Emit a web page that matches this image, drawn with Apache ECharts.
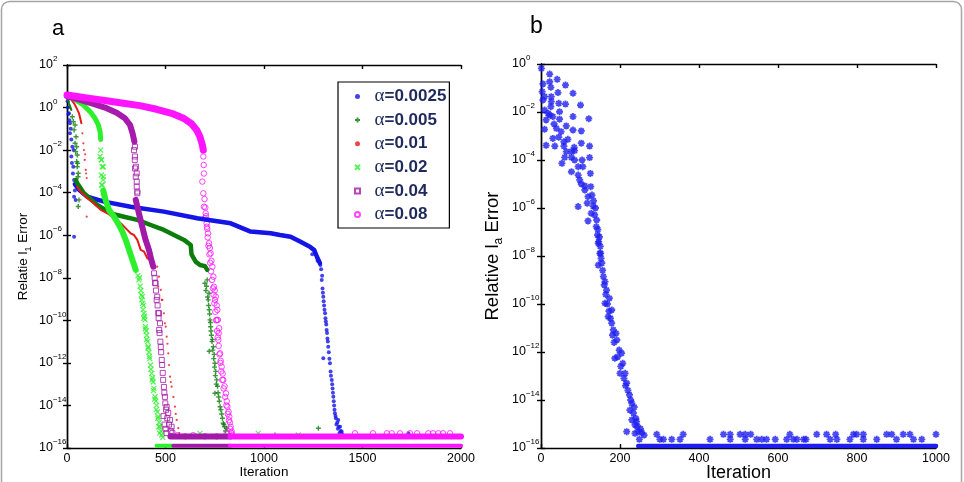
<!DOCTYPE html>
<html>
<head>
<meta charset="utf-8">
<script src="https://cdn.jsdelivr.net/npm/echarts@6/dist/echarts.min.js"></script>
<style>
html, body { margin: 0; padding: 0; background: #fff; }
#chart { width: 964px; height: 482px; }
</style>
</head>
<body>
<div id="chart"></div>
<script>
// tick labels
const xTicksA = [0, 500, 1000, 1500, 2000];
const xTicksB = [0, 200, 400, 600, 800, 1000];
const yExpA = [-16, -14, -12, -10, -8, -6, -4, -2, 0, 2];
const yExpB = [-16, -14, -12, -10, -8, -6, -4, -2, 0];

const names = ['α=0.0025', 'α=0.005', 'α=0.01', 'α=0.02', 'α=0.04', 'α=0.08'];

// all points are [iteration, log10(error)]
// alpha = 0.0025
const blueDots = [[3,0.3],[5,0.0],[7,-0.3],[10,-0.27],[12,-0.6],[15,-0.74],[15,-1.21],[19,-1.0],[22,-1.5],[27,-1.84],[22,-2.3],[25,-2.6],[32,-2.78],[30,-3.1],[36,-3.4],[36,-4.19],[44,-4.34],[36,-6.07],[40,-3.9],[33,-2.0],
  [1245,-6.9],[1272,-7.2],[1286,-7.4],[1290,-7.6],[1295,-7.9],[1293,-8.1],[1297,-8.5],[1299,-8.7],[1301,-8.89],[1303,-9.1],[1305,-9.3],[1307,-9.5],[1310,-9.67],[1312,-9.9],[1314,-10.05],[1316,-10.2],[1318,-10.45],[1320,-10.6],[1322,-10.85],[1324,-11.0],[1326,-11.24],[1329,-11.5],[1301,-11.78],[1332,-11.8],[1335,-12.02],[1338,-12.4],[1340,-12.6],[1344,-12.8],[1346,-13.0],[1348,-13.2],[1350,-13.4],[1352,-13.59],[1354,-13.8],[1356,-14.0],[1358,-14.2],[1360,-14.37],[1363,-14.5],[1365,-14.6],[1368,-14.9],[1372,-14.8],[1375,-15.1],[1377,-14.68],[1380,-15.0],[1383,-15.3],[1386,-15.0],[1390,-15.2],[1394,-15.23],[1398,-15.35],[1733,-15.31]];
const blueBand = [[40,-3.6],[60,-3.85],[103,-4.19],[188,-4.42],[323,-4.66],[492,-4.89],[661,-5.2],[831,-5.44],[932,-5.83],[1034,-5.91],[1081,-5.99],[1135,-6.07],[1183,-6.3],[1233,-6.54],[1255,-6.7],[1268,-7.0],[1284,-7.32]];

// alpha = 0.005
const greenTop = [[0,0.54],[10,0.2],[22,-0.11]];
const greenDots = [[27,-0.43],[32,-0.66],[36,-1.05],[41,-1.68],[44,-2.07],[49,-2.54],[52,-2.78],[56,-3.25],[41,-0.82],[46,-1.37],[49,-1.84],[52,-2.23],[54,-2.62],[57,-3.09],[61,-4.34],[57,-4.65],
  [700,-8.26],[705,-8.6],[708,-8.4],[712,-8.1],[714,-8.9],[717,-9.04],[719,-9.3],[721,-8.73],[722,-9.5],[724,-9.7],[726,-9.98],[728,-10.1],[729,-10.3],[731,-10.5],[733,-10.7],[736,-11.0],[738,-10.9],[740,-11.4],[743,-11.24],[722,-11.45],[745,-11.8],[747,-11.6],[749,-12.2],[751,-12.02],[753,-12.6],[755,-12.4],[758,-13.0],[760,-12.8],[764,-13.1],[751,-13.43],[767,-13.4],[770,-13.6],[773,-13.8],[777,-14.06],[781,-14.2],[785,-14.4],[789,-14.6],[793,-14.84],[796,-14.9],[800,-15.0],[805,-15.2],[811,-15.07],[1276,-15.07],[1056,-15.39]];
const greenBand = [[45,-3.4],[52,-3.56],[86,-4.03],[154,-4.58],[222,-4.97],[289,-5.13],[357,-5.28],[425,-5.52],[492,-5.75],[543,-5.99],[594,-6.22],[628,-6.46],[632,-6.9],[653,-7.24],[675,-7.4],[700,-7.45],[712,-7.63]];

// alpha = 0.01
const redTop = [[0,0.54],[20,0.4],[36,0.2],[50,-0.05],[61,-0.27],[73,-0.74]];
const redDots = [[78,-1.21],[83,-1.68],[86,-2.0],[90,-2.46],[95,-2.93],[100,-3.31],[100,-5.13],[92,-2.2],[97,-3.1],
  [458,-7.48],[463,-8.42],[467,-7.95],[476,-8.57],[481,-9.04],[484,-9.04],[492,-9.67],[497,-10.14],[501,-10.3],[506,-10.77],[510,-11.1],[514,-11.55],[518,-12.1],[523,-12.65],[527,-12.9],[531,-13.12],[540,-13.6],[548,-14.06],[552,-14.4],[557,-14.68],[565,-15.07],[570,-15.3]];
const redBand = [[52,-3.72],[61,-3.87],[103,-4.26],[137,-4.5],[171,-4.81],[205,-4.97],[239,-5.2],[273,-5.44],[306,-5.75],[323,-5.91],[340,-5.99],[357,-6.22],[374,-6.69],[391,-6.77],[408,-7.08],[433,-7.24]];

// alpha = 0.02
const limeTop = [[0,0.54],[32,0.43],[83,0.12],[117,-0.19],[142,-0.5],[159,-0.82],[168,-1.13],[171,-1.5]];
const limeDots = [[171,-2.0],[174,-2.46],[179,-2.78],[174,-3.17],[184,-3.4],[179,-3.64],[168,-2.3],[176,-2.46],[184,-2.78],[184,-3.25],[176,-3.64],[184,-4.19],
  [360,-7.9],[365,-8.1],[368,-8.0],[371,-8.4],[375,-8.6],[377,-8.8],[379,-9.04],[382,-8.89],[384,-9.2],[386,-9.5],[388,-9.3],[390,-9.9],[391,-9.67],[393,-9.8],[396,-9.98],[397,-10.4],[399,-10.3],[402,-10.5],[404,-10.9],[405,-10.7],[409,-11.0],[411,-11.3],[413,-11.24],[416,-11.5],[418,-11.7],[420,-11.8],[424,-12.1],[426,-12.3],[430,-12.49],[432,-12.8],[434,-12.7],[437,-12.9],[439,-13.3],[441,-13.2],[445,-13.7],[447,-13.59],[451,-13.8],[453,-14.2],[455,-14.0],[459,-14.3],[461,-14.6],[463,-14.53],[466,-15.0],[468,-14.8],[470,-15.3],[472,-15.0],[476,-15.2],[481,-15.39],[486,-15.5],
  [640,-15.45],[675,-15.31],[971,-15.31],[1174,-15.38]];
const limeBand = [[184,-3.9],[196,-4.34],[213,-4.81],[239,-5.13],[264,-5.52],[281,-5.83],[298,-6.22],[315,-6.69],[332,-7.16],[349,-7.63]];
const limeFloor = [[455,-15.9],[540,-15.9]];

// alpha = 0.04
const purpleTop = [[0,0.54],[66,0.36],[134,0.17],[201,-0.03],[252,-0.24],[294,-0.5],[320,-0.82],[333,-1.21],[342,-1.6]];
const purpleDots = [[340,-2.0],[344,-2.46],[345,-2.86],[349,-3.25],[354,-3.72],[357,-4.03],[345,-1.84],[345,-2.3],[350,-2.78],[354,-3.09],[354,-3.48],[357,-3.95],
  [442,-7.79],[445,-8.0],[450,-8.26],[447,-8.24],[452,-8.6],[458,-8.89],[455,-9.04],[460,-9.3],[463,-9.65],[467,-9.67],[465,-9.9],[472,-10.14],[468,-10.45],[470,-10.6],[474,-11.0],[476,-11.25],[478,-11.5],[481,-11.86],[483,-12.1],[486,-12.47],[488,-12.8],[492,-13.13],[494,-13.4],[497,-13.6],[499,-13.9],[503,-14.2],[506,-14.07],[509,-14.6],[514,-14.35],[518,-14.9],[523,-14.68],[527,-15.2],[531,-15.0],[535,-15.3],[490,-14.5],[495,-14.9],[500,-15.1],[505,-15.3]];
const purpleBand = [[349,-4.34],[365,-4.97],[382,-5.6],[399,-6.22],[416,-6.69],[428,-7.16],[438,-7.48]];
const purpleRow = [[525,-15.46],[830,-15.46]];
const purpleFloor = [[540,-15.9],[830,-15.9]];

// alpha = 0.08
const magentaTop = [[0,0.59],[117,0.43],[201,0.32],[286,0.2],[370,0.09],[455,-0.08],[540,-0.3],[591,-0.5],[633,-0.77],[658,-1.05],[675,-1.37],[687,-1.76],[692,-2.0]];
const magentaDots = [[692,-2.3],[694,-2.7],[695,-3.1],[687,-3.48],[692,-4.03],[695,-4.66],[704,-4.97],[709,-5.44],[716,-5.91],[721,-6.38],[729,-6.85],[738,-7.48],[743,-7.95],[746,-8.42],[755,-8.89],[763,-9.51],[766,-9.98],[772,-10.37],[751,-9.04],[760,-9.98],[768,-10.92],[777,-11.55],[785,-12.18],[793,-12.8],[807,-13.43],[814,-14.06],[824,-14.53],[831,-15.0],[836,-15.23],[700,-5.2],[712,-5.7],[725,-6.6],[733,-7.2],[750,-8.6],[760,-9.3],[770,-10.6],[780,-11.9],[790,-12.5],[800,-13.1],[811,-13.8],[820,-14.3],[827,-14.8],
  [698,-4.3],[702,-4.7],[706,-5.1],[710,-5.6],[714,-6.1],[718,-6.5],[723,-6.9],[727,-7.3],[731,-7.7],[736,-8.1],[741,-8.5],[744,-8.8],[748,-9.2],[753,-9.6],[757,-10.0],[762,-10.5],[765,-10.8],[770,-11.2],[774,-11.6],[779,-12.0],[783,-12.4],[788,-12.8],[795,-13.2],[803,-13.6],[809,-14.0],[816,-14.4],[822,-14.7],[829,-15.1],[834,-15.3],[838,-15.4],
  [560,-15.4],[600,-15.45],[640,-15.4],[700,-15.45],[760,-15.45],[811,-15.31],[1462,-15.31],[1553,-15.31],[1624,-15.31],[1648,-15.31],[1690,-15.31],[1741,-15.31],[1777,-15.31],[1834,-15.31],[1858,-15.31],[1885,-15.31],[1909,-15.31],[1944,-15.31]];
const magentaRow = [[830,-15.46],[2000,-15.46]];
const magentaFloor = [[827,-15.9],[2000,-15.9]];

// panel b
const starDots = [[1,-0.18],[22,-0.42],[5,-0.83],[22,-0.74],[41,-0.64],[62,-0.88],[3,-1.15],[9,-1.36],[25,-0.97],[26,-1.36],[43,-1.19],[81,-1.22],[5,-1.5],[26,-1.57],[9,-1.92],[25,-1.78],[45,-1.64],[62,-1.67],[100,-1.71],[18,-2.06],[30,-2.19],[47,-1.99],[13,-2.33],[22,-2.13],[81,-2.19],[121,-2.28],[33,-2.5],[47,-2.3],[64,-2.58],[9,-2.72],[39,-2.68],[51,-2.82],[81,-2.75],[102,-2.79],[30,-3.1],[45,-3.05],[58,-3.24],[68,-3.14],[102,-3.3],[13,-3.39],[35,-3.42],[58,-3.42],[84,-3.47],[123,-3.42],[64,-3.65],[77,-3.65],[85,-3.61],[60,-3.89],[77,-3.89],[123,-3.9],[53,-4.14],[85,-4.0],[104,-4.0],[77,-4.49],[94,-4.28],[106,-4.28],[125,-4.56],[94,-4.63],[98,-4.83],[102,-5.0],[111,-5.08],[126,-5.11],[111,-5.25],[119,-5.53],[129,-5.46],[94,-5.94],[117,-5.8],[132,-5.92],[127,-6.22],[136,-6.29],[119,-6.54],[140,-6.78],[143,-7.13],[146,-7.4],[151,-7.89],
  [145,-7.47],[149,-7.89],[145,-8.38],[154,-8.3],[158,-8.86],[162,-9.07],[162,-9.97],[166,-9.42],[173,-9.76],[170,-10.53],[179,-10.25],[179,-10.8],[183,-11.08],[190,-11.22],[187,-12.26],[192,-11.5],[198,-11.92],[204,-12.05],[200,-12.89],[207,-12.47],[213,-12.89],[217,-13.3],[224,-13.79],[230,-14.14],[225,-14.42],[234,-14.55],[230,-14.83],[240,-14.76],[217,-15.32],[238,-15.04],[246,-15.32],[238,-15.39],[255,-15.36],[261,-15.46],[249,-15.64],
  [133,-5.7],[138,-6.0],[141,-6.5],[144,-6.9],[148,-7.2],[150,-7.6],[152,-8.1],[156,-8.6],[160,-9.2],[164,-9.6],[168,-10.0],[172,-10.3],[176,-10.6],[181,-11.3],[185,-11.6],[194,-12.2],[202,-12.6],[210,-13.1],[214,-13.4],[220,-13.6],[227,-14.0],[236,-14.3],[242,-14.9],[244,-15.1],[252,-15.2]];
const starUpperIters = [293,360,462,479,504,517,531,630,698,723,746,791,799,816,875,888,917,934,1000];
const starLowerIters = [301,310,331,352,428,479,517,546,559,571,593,622,639,648,665,671,732,749,782,816,850,900,943,964];
const starFloor = [[246,-15.92],[1000,-15.92]];

const toVal = arr => arr.map(p => [p[0], Math.pow(10, p[1])]);
const rowVal = (iters, e) => iters.map(x => [x, Math.pow(10, e)]);

const PLUS = 'path://M0,5L10,5M5,0L5,10';
const CROSS = 'path://M1,1L9,9M1,9L9,1';
const SQUARE = 'path://M0,0L10,0L10,10L0,10Z';
const STAR = 'path://M5,0L5,10M0,5L10,5M1.5,1.5L8.5,8.5M1.5,8.5L8.5,1.5';

const C = {
  blue: '#1414e6', green: '#0b7d0b', red: '#e81818',
  lime: '#2cf02c', purple: '#a21aa8', magenta: '#ff14ff', star: '#1e1ef0'
};

function dots(name, data, symbol, size, itemStyle, ax) {
  return { name, type: 'scatter', xAxisIndex: ax, yAxisIndex: ax, data, symbol,
    symbolSize: size, itemStyle, silent: true, animation: false };
}
function band(data, color, width, ax) {
  return { type: 'line', xAxisIndex: ax, yAxisIndex: ax, data: toVal(data),
    showSymbol: false, symbol: 'none', lineStyle: { color, width, cap: 'round', join: 'round' },
    silent: true, animation: false };
}

const blueStyle = { color: C.blue };
const greenStyle = { color: 'transparent', borderColor: C.green, borderWidth: 1.4 };
const redStyle = { color: C.red };
const limeStyle = { color: 'transparent', borderColor: C.lime, borderWidth: 1.2 };
const purpleStyle = { color: 'transparent', borderColor: C.purple, borderWidth: 1 };
const magentaStyle = { color: 'transparent', borderColor: C.magenta, borderWidth: 1 };

const series = [
  band(blueBand, C.blue, 4.5, 0),
  dots(names[0], toVal(blueDots), 'circle', 4, blueStyle, 0),
  band(greenTop, C.green, 2, 0),
  band(greenBand, C.green, 4.5, 0),
  dots(names[1], toVal(greenDots), PLUS, 5, greenStyle, 0),
  band(redTop, C.red, 2, 0),
  band(redBand, C.red, 2, 0),
  dots(names[2], toVal(redDots), 'circle', 2.2, redStyle, 0),
  band(limeTop, C.lime, 5, 0),
  band(limeBand, C.lime, 6, 0),
  band(limeFloor, C.lime, 4, 0),
  dots(names[3], toVal(limeDots), CROSS, 5, limeStyle, 0),
  band(purpleTop, '#a61aac', 6, 0),
  band(purpleBand, C.purple, 6, 0),
  band(purpleRow, C.purple, 6, 0),
  band(purpleFloor, C.purple, 4, 0),
  dots(names[4], toVal(purpleDots), SQUARE, 5, purpleStyle, 0),
  band(magentaTop, C.magenta, 7, 0),
  band(magentaRow, C.magenta, 6, 0),
  band(magentaFloor, C.magenta, 4, 0),
  dots(names[5], toVal(magentaDots), 'circle', 5.5, magentaStyle, 0),
  band(starFloor, C.star, 4.5, 2),
  dots('b', toVal(starDots).concat(rowVal(starUpperIters, -15.43), rowVal(starLowerIters, -15.64)),
    STAR, 7, { color: 'transparent', borderColor: C.star, borderWidth: 1.8 }, 2)
];

const FONT = 'Liberation Sans';
const supLabel = v => {
  const e = Math.round(Math.log10(v));
  return '10{sup|' + (e < 0 ? '\u2212' + (-e) : e) + '}';
};
const labelRich = {
  fontSize: 12.5, color: '#000', fontFamily: FONT, lineHeight: 20,
  rich: { sup: { fontSize: 8, lineHeight: 8, verticalAlign: 'top', color: '#000', fontFamily: FONT } }
};
const lineStyle = { color: '#000', width: 1.4 };

function xPair(grid, ticks, gap, nameSize) {
  const max = ticks[ticks.length - 1], step = ticks[1] - ticks[0];
  return [
    { type: 'value', gridIndex: grid, min: 0, max, interval: step, position: 'bottom',
      axisLine: { show: true, lineStyle }, splitLine: { show: false },
      axisTick: { show: true, inside: true, length: 4, lineStyle },
      axisLabel: { fontSize: 12.5, color: '#000', fontFamily: FONT, margin: 4, formatter: v => String(v) },
      name: 'Iteration', nameLocation: 'middle', nameGap: gap, nameMoveOverlap: false,
      nameTextStyle: { fontSize: nameSize, color: '#000', fontFamily: FONT } },
    { type: 'value', gridIndex: grid, min: 0, max, interval: step, position: 'top',
      axisLine: { show: true, lineStyle }, splitLine: { show: false },
      axisTick: { show: true, inside: true, length: 4, lineStyle },
      axisLabel: { show: false } }
  ];
}
function yPair(grid, exps, margin, name, nameGap, nameSize, subSize) {
  const vals = exps.map(e => Math.pow(10, e));
  const lo = vals[0], hi = vals[vals.length - 1];
  const tick = { show: true, inside: true, length: 4, lineStyle, customValues: vals };
  return [
    { type: 'log', logBase: 10, gridIndex: grid, min: lo, max: hi,
      position: 'left', axisLine: { show: true, lineStyle }, splitLine: { show: false },
      minorTick: { show: false }, axisTick: tick,
      axisLabel: Object.assign({ align: 'left', margin, formatter: supLabel, customValues: vals }, labelRich),
      name, nameLocation: 'middle', nameGap, nameMoveOverlap: false,
      nameTextStyle: { fontSize: nameSize, color: '#000', fontFamily: FONT, lineHeight: nameSize + 6,
        rich: { s: { fontSize: subSize, lineHeight: subSize, verticalAlign: 'bottom', color: '#000', fontFamily: FONT } } } },
    { type: 'log', logBase: 10, gridIndex: grid, min: lo, max: hi,
      position: 'right', axisLine: { show: true, lineStyle }, splitLine: { show: false },
      minorTick: { show: false }, axisTick: tick,
      axisLabel: { show: false } }
  ];
}

const xa = xPair(0, xTicksA, 17, 13.5);
const xb = xPair(1, xTicksB, 16, 18);
const ya = yPair(0, yExpA, 28, 'Relatie l{s|1} Error', 34, 13.5, 9);
const yb = yPair(1, yExpB, 29, 'Relative l{s|a} Error', 36, 18.5, 12);

const chart = echarts.init(document.getElementById('chart'), null, { renderer: 'canvas' });
chart.setOption({
  backgroundColor: '#fff',
  animation: false,
  title: [
    { text: 'a', left: 52, top: 18, padding: 0, textStyle: { fontSize: 22, fontWeight: 'normal', color: '#000', fontFamily: FONT } },
    { text: 'b', left: 530, top: 15, padding: 0, textStyle: { fontSize: 23, fontWeight: 'normal', color: '#000', fontFamily: FONT } }
  ],
  grid: [
    { left: 67, top: 65, width: 394, height: 383, outerBoundsMode: 'none', containLabel: false },
    { left: 541, top: 64, width: 395, height: 384, outerBoundsMode: 'none', containLabel: false }
  ],
  xAxis: [xa[0], xa[1], xb[0], xb[1]],
  yAxis: [ya[0], ya[1], yb[0], yb[1]],
  legend: {
    data: names, orient: 'vertical', left: 338, top: 82,
    backgroundColor: '#fff', borderColor: '#000', borderWidth: 1.2, borderRadius: 0,
    padding: [5, 3, 4, 16], itemWidth: 24, itemHeight: 5, itemGap: 4.6,
    selectedMode: false,
    formatter: n => '{g|α}' + n.slice(1),
    textStyle: { fontSize: 17, fontWeight: 'bold', color: '#1f2a5c', lineHeight: 18, fontFamily: FONT,
      rich: { g: { fontSize: 19, fontWeight: 'normal', color: '#1f2a5c', fontFamily: 'Liberation Serif', lineHeight: 18 } } }
  },
  graphic: [{
    type: 'rect', silent: true, z: 100,
    shape: { x: 1.5, y: 1.5, width: 960, height: 500, r: 8 },
    style: { fill: 'none', stroke: '#a4a4a4', lineWidth: 1.5 }
  }],
  series
});
</script>
</body>
</html>
